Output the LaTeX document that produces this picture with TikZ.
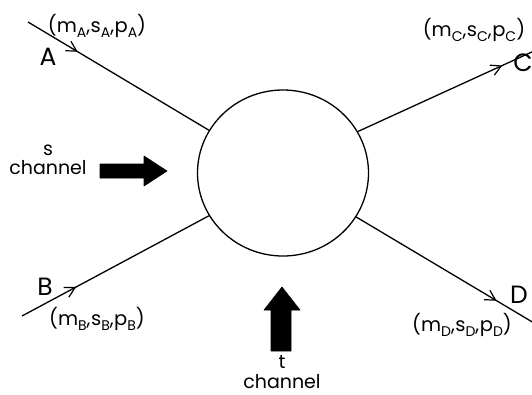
\documentclass[tikz,border=0pt]{standalone}
\usepackage{fontspec}
\setmainfont{Poppins}
\usetikzlibrary{decorations.markings,arrows.meta,shapes.geometric}
% lowered subscript used in the kinematic labels
\newcommand\lowsub[1]{\raisebox{-0.5ex}{\fontsize{14}{14}\selectfont #1}}
\newcommand\kin[1]{(m\lowsub{#1},\kern0.5pt s\lowsub{#1},\kern0.5pt p\lowsub{#1})}
\begin{document}
\begin{tikzpicture}[x=1pt,y=-1pt,
  leg/.style={line width=1.3pt},
  headat/.style={postaction={decorate,decoration={markings,
      mark=at position #1 with {\arrow{Straight Barb[length=10pt,width=11pt,line width=1.2pt]}}}}},
  letter/.style={font=\fontsize{25}{25}\selectfont, inner sep=0pt},
  tuple/.style={font=\fontsize{19.5}{19.5}\selectfont, inner sep=0pt},
  chan/.style={font=\fontsize{19}{19.5}\selectfont, inner sep=0pt, align=center},
  bigarrow/.style={fill=black, draw=black, line width=0.6pt, line join=round}]
\useasboundingbox (0,0) rectangle (532,394);

% interaction region
\node[ellipse, draw, line width=1.3pt, minimum width=171pt, minimum height=166pt, inner sep=0pt] (blob) at (283,173) {};

% external legs
\coordinate (pa) at (28,22);
\coordinate (pb) at (22,316);
\coordinate (pc) at (534,51);
\coordinate (pd) at (534,323);
\draw[leg, headat=0.275] (pa) -- (blob.150);
\draw[leg, headat=0.29] (pb) -- (blob.210);
\draw[leg, headat=0.82] (blob.29) -- (pc);
\draw[leg, headat=0.79] (blob.329) -- (pd);

% particle labels
\node[letter] (la) at (48,57) {A};
\node[letter] (lb) at (45,287) {B};
\node[letter] (lc) at (523,63) {C};
\node[letter] (ld) at (519,295) {D};
\node[tuple] (ta) at (97,26) {\kin{A}};
\node[tuple] (tb) at (97,319) {\kin{B}};
\node[tuple] (tc) at (474,30) {\kin{C}};
\node[tuple] (td) at (462,325) {\kin{D}};

% s channel arrow
\node[chan] (sl) at (48,160) {s\\channel};
\draw[bigarrow] (100,164) -- (144,164) -- (144,156) -- (167,171)
  -- (144,186) -- (144,178) -- (100,178) -- cycle;

% t channel arrow
\draw[bigarrow] (271,351) -- (271,310) -- (264,310) -- (282,287)
  -- (300,310) -- (291,310) -- (291,351) -- cycle;
\node[chan] (tl) at (282,372) {t\\channel};
\end{tikzpicture}
\end{document}
